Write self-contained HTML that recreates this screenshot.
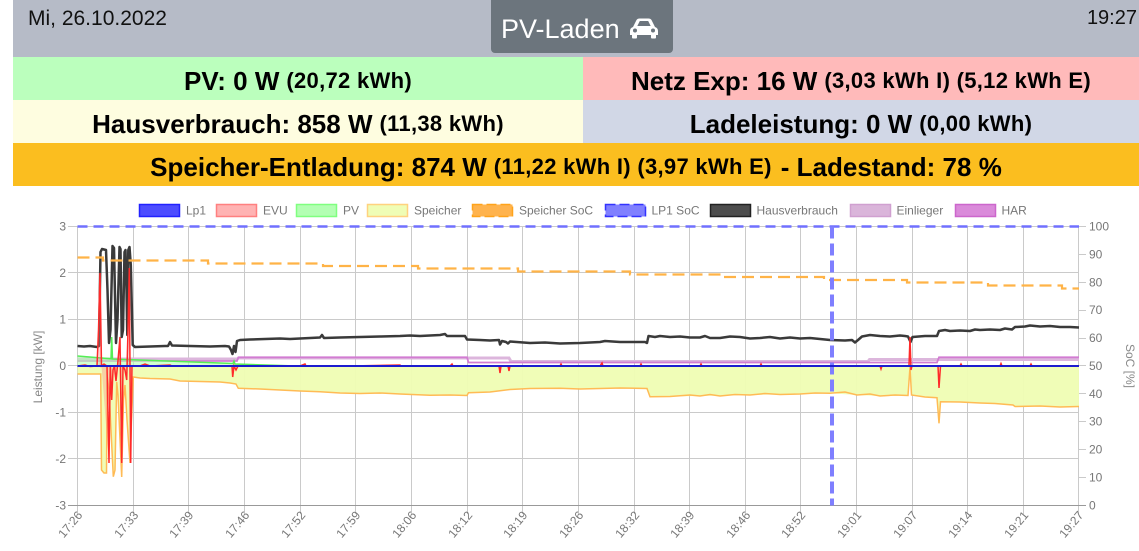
<!DOCTYPE html>
<html><head><meta charset="utf-8">
<style>
html,body{margin:0;padding:0;background:#fff;}
body{width:1139px;height:551px;overflow:hidden;position:relative;font-family:"Liberation Sans",Arial,sans-serif;}
.hdr{position:absolute;left:13px;top:0;width:1126px;height:57px;background:#b6bbc7;}
.date{position:absolute;left:28px;top:7px;font-size:21px;color:#111;}
.time{position:absolute;right:2px;top:7px;font-size:20px;color:#111;}
.btn{position:absolute;left:491px;top:-4px;width:182px;height:56.5px;background:#6c757d;border-radius:4px;}
.btn span{position:absolute;left:10px;top:17px;font-size:27px;color:#fff;line-height:32px;}
.row{position:absolute;display:flex;align-items:center;justify-content:center;font-weight:bold;color:#000;white-space:nowrap;box-sizing:border-box;padding-top:5px;}
.row b{font-size:26px;}
.row i{font-style:normal;font-size:22px;margin-left:7px;letter-spacing:0.3px;}
.chart{position:absolute;left:0;top:0;}
</style></head><body>
<div class="hdr"></div>
<div class="date">Mi, 26.10.2022</div>
<div class="time">19:27</div>
<div class="btn"><span>PV-Laden</span>
<svg style="position:absolute;left:138px;top:22px" width="30" height="21" viewBox="0 0 30 21">
<path d="M4,9 L7.5,2 Q8.5,0.5 10.5,0.5 H19.5 Q21.5,0.5 22.5,2 L26,9 Q29,10 29,13 V17 H1 V13 Q1,10 4,9 Z" fill="#fff"/>
<path d="M8.3,8 L10.8,3 H19.2 L21.7,8 Z" fill="#6c757d"/>
<circle cx="6" cy="12.5" r="2" fill="#6c757d"/><circle cx="24" cy="12.5" r="2" fill="#6c757d"/>
<rect x="3" y="16" width="5" height="4.5" rx="1" fill="#fff"/><rect x="22" y="16" width="5" height="4.5" rx="1" fill="#fff"/>
</svg></div>

<div class="row" style="left:13px;top:57px;width:570px;height:43px;background:#bbffbd;"><b>PV: 0 W</b><i>(20,72 kWh)</i></div>
<div class="row" style="left:583px;top:57px;width:556px;height:43px;background:#ffbaba;"><b>Netz Exp: 16 W</b><i>(3,03 kWh I) (5,12 kWh E)</i></div>
<div class="row" style="left:13px;top:100px;width:570px;height:43px;background:#fefde0;"><b>Hausverbrauch: 858 W</b><i>(11,38 kWh)</i></div>
<div class="row" style="left:583px;top:100px;width:556px;height:43px;background:#d1d7e6;"><b>Ladeleistung: 0 W</b><i>(0,00 kWh)</i></div>
<div class="row" style="left:13px;top:143px;width:1126px;height:43px;background:#fbbe1f;"><b>Speicher-Entladung: 874 W</b><i>(11,22 kWh I) (3,97 kWh E)</i><b style="margin-left:9px">- Ladestand: 78 %</b></div>

<svg class="chart" width="1139" height="551" viewBox="0 0 1139 551" font-family="Liberation Sans, Arial, sans-serif" font-size="12">
<!-- legend -->
<g font-size="12" fill="#777">
<rect x="139.5" y="204.5" width="40" height="12" fill="#4d4dff" stroke="#2222ff" stroke-width="1.5"/><text x="186" y="214.5">Lp1</text>
<rect x="216.5" y="204.5" width="40" height="12" fill="#ffb3b3" stroke="#ff8080" stroke-width="1.5"/><text x="263" y="214.5">EVU</text>
<rect x="296.5" y="204.5" width="40" height="12" fill="#b3ffb3" stroke="#80ff80" stroke-width="1.5"/><text x="343" y="214.5">PV</text>
<rect x="367.5" y="204.5" width="40" height="12" fill="#effdb5" stroke="#ffd27f" stroke-width="1.5"/><text x="414" y="214.5">Speicher</text>
<rect x="472.5" y="204.5" width="40" height="12" fill="#ffb34d" stroke="#ffa31a" stroke-width="1.5" stroke-dasharray="10 4"/><text x="519" y="214.5">Speicher SoC</text>
<rect x="605.5" y="204.5" width="40" height="12" fill="#8080ff" stroke="#3333ff" stroke-width="1.5" stroke-dasharray="10 4"/><text x="651.5" y="214.5">LP1 SoC</text>
<rect x="710.5" y="204.5" width="40" height="12" fill="#4d4d4d" stroke="#222" stroke-width="1.5"/><text x="756.5" y="214.5">Hausverbrauch</text>
<rect x="850.5" y="204.5" width="40" height="12" fill="#dab5da" stroke="#d0a0d0" stroke-width="1.5"/><text x="896.5" y="214.5">Einlieger</text>
<rect x="955.5" y="204.5" width="40" height="12" fill="#da8ada" stroke="#cc66cc" stroke-width="1.5"/><text x="1001.5" y="214.5">HAR</text>
</g>
<!-- grid -->
<g stroke="#cacaca" stroke-width="1">
<path d="M68,226.5H1079 M68,272.5H1079 M68,319.5H1079 M68,365.5H1079 M68,412.5H1079 M68,458.5H1079"/>
<path d="M1078.5,226.5H1086 M1078.5,254.5H1086 M1078.5,282.5H1086 M1078.5,310.5H1086 M1078.5,338.5H1086 M1078.5,365.5H1086 M1078.5,393.5H1086 M1078.5,421.5H1086 M1078.5,449.5H1086 M1078.5,477.5H1086 M1078.5,505.5H1086"/>
<path d="M77.5,226.5V514 M133.5,226.5V514 M188.5,226.5V514 M244.5,226.5V514 M300.5,226.5V514 M355.5,226.5V514 M411.5,226.5V514 M467.5,226.5V514 M522.5,226.5V514 M578.5,226.5V514 M634.5,226.5V514 M689.5,226.5V514 M745.5,226.5V514 M800.5,226.5V514 M856.5,226.5V514 M912.5,226.5V514 M967.5,226.5V514 M1023.5,226.5V514 M1078.5,226.5V514"/>
</g>
<path d="M68,505.5H1086" stroke="#999" stroke-width="1"/>
<!-- y labels -->
<g fill="#777" text-anchor="end">
<text x="66" y="230.5">3</text><text x="66" y="277">2</text><text x="66" y="323.5">1</text><text x="66" y="370">0</text><text x="66" y="416.5">-1</text><text x="66" y="463">-2</text><text x="66" y="509.5">-3</text>
</g>
<g fill="#777">
<text x="1089" y="230.5">100</text><text x="1089" y="258.5">90</text><text x="1089" y="286.5">80</text><text x="1089" y="314">70</text><text x="1089" y="342">60</text><text x="1089" y="370">50</text><text x="1089" y="398">40</text><text x="1089" y="425.5">30</text><text x="1089" y="453.5">20</text><text x="1089" y="481.5">10</text><text x="1089" y="509.5">0</text>
</g>
<text transform="translate(42,367) rotate(-90)" text-anchor="middle" fill="#888">Leistung [kW]</text>
<text transform="translate(1126,366) rotate(90)" text-anchor="middle" fill="#888">SoC [%]</text>
<!-- x labels -->
<g fill="#777" text-anchor="end">
<text transform="translate(80,513) rotate(-50)" dy="4">17:26</text>
<text transform="translate(136,513) rotate(-50)" dy="4">17:33</text>
<text transform="translate(191,513) rotate(-50)" dy="4">17:39</text>
<text transform="translate(247,513) rotate(-50)" dy="4">17:46</text>
<text transform="translate(303,513) rotate(-50)" dy="4">17:52</text>
<text transform="translate(358,513) rotate(-50)" dy="4">17:59</text>
<text transform="translate(414,513) rotate(-50)" dy="4">18:06</text>
<text transform="translate(470,513) rotate(-50)" dy="4">18:12</text>
<text transform="translate(525,513) rotate(-50)" dy="4">18:19</text>
<text transform="translate(581,513) rotate(-50)" dy="4">18:26</text>
<text transform="translate(637,513) rotate(-50)" dy="4">18:32</text>
<text transform="translate(692,513) rotate(-50)" dy="4">18:39</text>
<text transform="translate(748,513) rotate(-50)" dy="4">18:46</text>
<text transform="translate(803,513) rotate(-50)" dy="4">18:52</text>
<text transform="translate(859,513) rotate(-50)" dy="4">19:01</text>
<text transform="translate(915,513) rotate(-50)" dy="4">19:07</text>
<text transform="translate(970,513) rotate(-50)" dy="4">19:14</text>
<text transform="translate(1026,513) rotate(-50)" dy="4">19:21</text>
<text transform="translate(1081,513) rotate(-50)" dy="4">19:27</text>
</g>

<!-- HAR / Einlieger -->
<polyline fill="none" stroke="#dcb6dc" stroke-width="3" points="77.5,359 237,359 238.5,358 509,358 511,361.5 868,361.5 869.5,359.5 1079,359.5"/>
<polyline fill="none" stroke="#d27cd2" stroke-width="1.8" points="77.5,361 237,361 238.5,357.3 467,357.3 468.5,362.5 937,362.5 939,357.3 1079,357.3"/>

<!-- Speicher fill -->
<polygon fill="#effdb3" fill-opacity="0.95" stroke="none" points="77.5,366 77.5,374 100.7,374 101.5,470 104,473 106.5,473 107.3,377 109,390 113.3,476.7 115,470 116.7,382 118,395 121.7,477 123.5,400 125,385 127,420 130,463 131.5,420 133.3,377 140,378 170,379 180,381 220,382 230,383 236,384 238.3,388.3 260,389 300,391 320,391.7 340,393 400,394 430,395.3 467,395.5 468.5,392.7 490,392 510,389.5 560,388.3 600,388.5 647,388.5 650,396.7 700,396 750,395 800,394 830,393.3 857,395 880,396 908,395.5 910,367 911.5,395 937,397.7 939,423.3 940.5,401.7 980,403 1013,405 1015,406.5 1079,406.5 1079,366"/>
<polyline fill="none" stroke="#ffbb55" stroke-width="1.5" points="77.5,374 100.7,374 101.5,470 104,473 106.5,473 107.3,377 109,390 113.3,476.7 115,470 116.7,382 118,395 121.7,477 123.5,400 125,385 127,420 130,463 131.5,420 133.3,377 140,378 150,378.5 170,379 180,381 200,381.5 220,382 230,383 236,384 238.3,388.3 260,389 280,390 300,391 320,391.7 340,393 360,393.5 380,393 400,394 430,395.3 450,395 467,395.5 468.5,392.7 490,392 510,389.5 530,388.5 560,388.3 580,389 600,388.5 620,388 647,388.5 650,396.7 670,396.5 690,395 700,396 710,394.5 720,396 735,394.5 750,395 765,393.5 780,394.5 800,394 815,393 830,393.3 845,392 857,395 870,394 880,396 895,395 908,395.5 910,367 911.5,395 925,397 937,397.7 939,423.3 940.5,401.7 960,402 980,403 995,403.5 1013,405 1015,406.5 1040,406 1060,407 1079,406.5"/>

<!-- PV -->
<polygon fill="#b3ffb3" fill-opacity="0.6" points="77.5,366 77.5,356 111,358.8 111.7,337 112.5,359 233,363.5 234,361 235,364 296,366"/>
<polyline fill="none" stroke="#55ee55" stroke-width="1.5" points="77.5,356 111,358.8 111.7,337 112.5,359 233,363.5 234,361 235,364 296,366 1079,366"/>

<!-- Hausverbrauch -->
<polyline fill="none" stroke="#3a3a3a" stroke-width="2.5" stroke-linejoin="round" points="77.5,346 84,346.5 90,346 97,347 99,346 100.5,252 102,249 106,250 107.5,290 109,343 110.5,330 112.5,246 114,248 116,343 117.5,320 119.5,247 120.5,249 121.7,337 123,330 124.5,252 125.5,250 126.5,290 127.3,335 128.3,250 129.5,247 130.8,265 132.7,345 135,347 150,346.5 165,346 168,346 170,342 172,345.5 190,346 210,346.5 225,346 229,346.5 231,350 232.5,354 234,346 235.5,352 237,341 240,340 250,339.5 265,339 280,338.5 290,339 300,338.5 320,337.5 322,335 324,338 340,337.5 360,337 380,336.5 400,336 410,335.5 420,336 440,335 445,334 447,336 465,336 467,339.5 480,340 490,340.5 499,340 500,344.5 502,341 506,342 508,343.5 510,341.5 530,343 545,342.5 560,343.5 580,343 600,342 605,341 620,342 645,342 647,343 648.5,336 655,337 660,336 670,337 680,336.5 690,337.5 700,337.5 705,336 710,338 720,338 730,336.5 740,337 750,338.5 760,338 770,337 780,338.5 790,337.5 800,338.5 810,338 820,339 830,340 845,340.5 852,340 855,342.5 858,340 862,336.5 870,335 880,336 890,336.5 900,335.5 905,336 908,336.5 910.5,342 912.5,337 925,336 937,336 939,331 945,330 950,331 960,330.5 970,331 975,329.5 980,330 990,329.5 1000,330 1005,328.5 1012,329.5 1015,327 1025,326.5 1030,325.5 1040,326.5 1050,326 1060,327 1070,327 1079,327.5"/>

<!-- Speicher SoC -->
<path d="M77.5,257.5 H103 V260.5 H208 V263.5 H323 V266 H418 V268.5 H518 V271.5 H630 V274.5 H724 V277 H824 V280 H907 V282.5 H988 V285.5 H1062 V288.5 H1079" fill="none" stroke="#ffb347" stroke-width="2.2" stroke-dasharray="12 6"/>

<!-- LP1 SoC -->
<path d="M77.5,226.5 H1079" fill="none" stroke="#7070ff" stroke-width="2.5" stroke-dasharray="10 6"/>
<path d="M832,226.5 V505.5" fill="none" stroke="#7f7fff" stroke-width="4" stroke-dasharray="12 5"/>

<!-- EVU -->
<polygon fill="#ff8080" fill-opacity="0.35" points="77.5,366 98.5,366 98.5,330 100,273 101.5,366 109,463 110.3,366 111.7,400 113,370 116,381 117.5,366 120,337 121.7,463 123,366 126.7,380 128,330 129.3,268 130.7,463 132,366"/>
<polyline fill="none" stroke="#ff2a2a" stroke-width="1.5" points="77.5,366 85,365 90,366.5 97,366 98.5,330 100,273 101.5,366 104,364 107,366 109,463 110.3,366 111.7,400 113,370 114.5,366 116,381 117.5,366 120,337 121.7,463 123,366 125,370 126.7,380 128,330 129.3,268 130.7,463 132,366 140,366 145,364 150,366 170,365 172,366 200,366 232,366 232.7,377 234,366 236,370 238,366 300,366 305,364 306,366 350,366 400,365 401,366 450,366 452,364 453,366 499,366 500,373 501,366 508,366 509,371 510,366 560,366 561,364 562,366 600,366 602,363 603,366 640,366 641,364 642,366 700,366 701,364 702,366 760,366 761,364 762,366 800,366 880,366 881,369 882,366 909,366 910,337 911,370 912,366 938,366 939,388 940.5,366 960,366 961,364 962,366 1000,366 1001,363.5 1002,366 1030,366 1031,364 1032,366 1079,366"/>

<!-- Lp1 -->
<path d="M77.5,366 H1079" stroke="#1c1ccf" stroke-width="2"/>
</svg>
</body></html>
